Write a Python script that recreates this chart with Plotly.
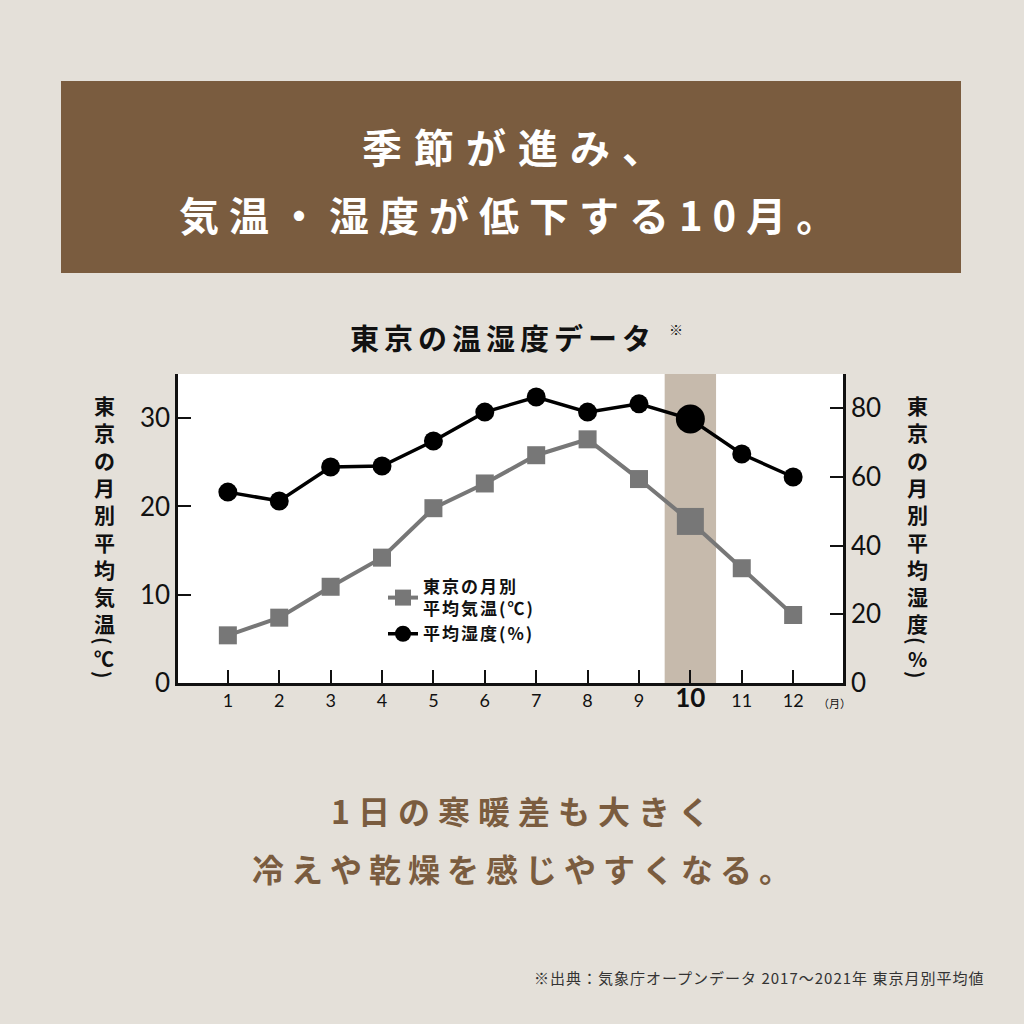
import plotly.graph_objects as go

# Tokyo monthly averages, 2017-2021
months = list(range(1, 13))
month_labels = ["1", "2", "3", "4", "5", "6", "7", "8", "9", "10", "11", "12"]
temperature_c = [5.4, 7.4, 10.9, 14.2, 19.8, 22.6, 25.8, 27.6, 23.1, 18.3, 13.0, 7.7]
humidity_pct = [55.6, 53.0, 62.9, 63.2, 70.5, 78.9, 83.3, 78.9, 81.3, 76.9, 66.7, 60.0]
highlight_month = 10

temp_ticks = [0, 10, 20, 30]
hum_ticks = [0, 20, 40, 60, 80]

BG = "#e4e0d9"
BROWN = "#7a5c3f"
BAND = "#c6baac"
GRAY = "#777777"
INK = "#111111"
JP = "Noto Sans CJK JP"
NUM = "Lato, Noto Sans CJK JP"

W, H = 1024, 1024
L, R, T, B = 178, 843, 374, 683  # plot area in pixels


def px(x):
    return (x - L) / (R - L)


def py(y):
    return (B - y) / (B - T)


def spaced(text, gap):
    return f"<span style='letter-spacing:{gap}px'>{text}</span>"


temp_sizes = [27 if m == highlight_month else 18 for m in months]
hum_sizes = [29 if m == highlight_month else 19 for m in months]

fig = go.Figure()
fig.add_trace(go.Scatter(
    x=months, y=temperature_c, mode="lines+markers",
    name=spaced("東京の月別", 2) + "<br>" + spaced("平均気温(℃)", 2),
    line=dict(color=GRAY, width=4),
    marker=dict(symbol="square", size=temp_sizes, color=GRAY, opacity=1,
                line=dict(width=0)),
    yaxis="y",
))
fig.add_trace(go.Scatter(
    x=months, y=humidity_pct, mode="lines+markers",
    name=spaced("平均湿度(%)", 2),
    line=dict(color="#000000", width=3.5),
    marker=dict(symbol="circle", size=hum_sizes, color="#000000", opacity=1,
                line=dict(width=0)),
    yaxis="y2",
))

shapes = [
    # highlighted month column
    dict(type="rect", xref="x", yref="paper", x0=highlight_month - 0.5,
         x1=highlight_month + 0.5, y0=0, y1=1, fillcolor=BAND,
         line=dict(width=0), layer="below"),
    # headline banner
    dict(type="rect", xref="paper", yref="paper", x0=px(61), x1=px(961),
         y0=py(273), y1=py(81), fillcolor=BROWN, line=dict(width=0)),
]

annotations = [
    dict(text=spaced("季節が進み、", 12), x=px(518), y=py(146),
         font=dict(size=40, color="white", family=JP, weight="bold")),
    dict(text=spaced("気温・湿度が低下する10月。", 10), x=px(512), y=py(214),
         font=dict(size=40, color="white", family=JP, weight="bold")),
    dict(text=spaced("東京の温湿度データ", 5), x=px(503), y=py(337),
         font=dict(size=29, color=INK, family=JP, weight="bold")),
    dict(text="※", x=px(676), y=py(329), font=dict(size=14, color=INK, family=JP)),
    dict(text=spaced("1日の寒暖差も大きく", 8), x=px(524), y=py(810),
         font=dict(size=32, color=BROWN, family=JP, weight="bold")),
    dict(text=spaced("冷えや乾燥を感じやすくなる。", 7), x=px(525), y=py(868),
         font=dict(size=32, color=BROWN, family=JP, weight="bold")),
    dict(text=spaced("※出典：気象庁オープンデータ 2017～2021年 東京月別平均値", 1),
         x=px(986), y=py(977), xanchor="right",
         font=dict(size=15, color="#333333", family=JP)),
    dict(text="（月）", x=px(834), y=py(703), font=dict(size=11, color=INK, family=JP)),
]

# vertical axis titles: stacked characters, unit in rotated brackets
title_font = dict(size=21, color=INK, family=JP, weight="bold")
unit_font = dict(size=20, color=INK, family=JP, weight="bold")
for col_x, words, unit in ((104, "東京の月別平均気温", "℃"), (917, "東京の月別平均湿度", "%")):
    annotations.append(dict(text="<br>".join(words), x=px(col_x), y=py(388),
                            yanchor="top", font=title_font))
    annotations.append(dict(text="(", x=px(col_x), y=py(641), textangle=90, font=unit_font))
    annotations.append(dict(text=unit, x=px(col_x), y=py(658), font=unit_font))
    annotations.append(dict(text=")", x=px(col_x), y=py(675), textangle=90, font=unit_font))

for a in annotations:
    a.setdefault("xref", "paper")
    a.setdefault("yref", "paper")
    a.setdefault("showarrow", False)
    a.setdefault("xanchor", "center")
    a.setdefault("yanchor", "middle")

tick_text = [f"<b><span style='font-size:26px'>{t}</span></b>" if int(t) == highlight_month else t
             for t in month_labels]

axis_common = dict(ticks="inside", ticklen=13, tickwidth=2, tickcolor=INK,
                   showline=True, linecolor=INK, linewidth=2.5,
                   showgrid=False, zeroline=False)

fig.update_layout(
    width=W, height=H,
    margin=dict(l=L, r=W - R, t=T, b=H - B, pad=0),
    paper_bgcolor=BG,
    plot_bgcolor="white",
    showlegend=True,
    legend=dict(x=px(383), y=py(569), xanchor="left", yanchor="top",
                bgcolor="rgba(0,0,0,0)",
                font=dict(size=17, color=INK, family=JP, weight="bold"),
                tracegroupgap=6, itemwidth=30),
    xaxis=dict(range=[0.03, 12.97], tickvals=months, ticktext=tick_text,
               tickfont=dict(size=18, color=INK, family=NUM), **axis_common),
    yaxis=dict(range=[0, 35], tickvals=temp_ticks,
               tickfont=dict(size=26, color=INK, family=NUM), **axis_common),
    yaxis2=dict(range=[0, 90], tickvals=hum_ticks, overlaying="y", side="right",
                tickfont=dict(size=26, color=INK, family=NUM), **axis_common),
    shapes=shapes,
    annotations=annotations,
)

fig.write_html("out.html")
